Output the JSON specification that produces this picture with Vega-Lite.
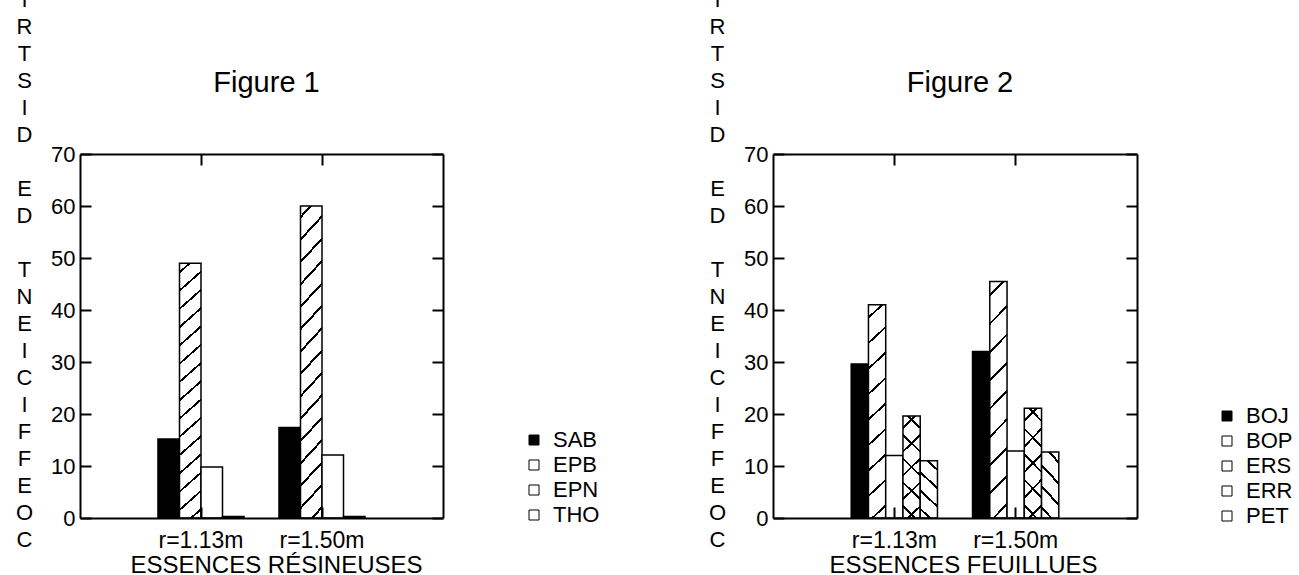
{
  "$schema": "https://vega.github.io/schema/vega-lite/v6.json",
  "autosize": {"type": "none"},
  "padding": {"left": 80, "top": 154, "right": 1219, "bottom": 421},
  "bounds": "flush",
  "spacing": 330,
  "background": "white",
  "config": {
    "font": "Liberation Sans",
    "view": {"stroke": null},
    "axis": {
      "domainColor": "black", "domainWidth": 2, "tickColor": "black", "tickWidth": 2,
      "labelColor": "black", "titleColor": "black", "labelFont": "Liberation Sans", "titleFont": "Liberation Sans",
      "labelFontSize": 22, "titleFontSize": 22, "titleFontWeight": "normal", "grid": false
    },
    "legend": {
      "labelFont": "Liberation Sans", "labelFontSize": 22, "labelColor": "black",
      "symbolType": "square", "symbolSize": 100, "symbolStrokeColor": "black", "symbolStrokeWidth": 1,
      "labelOffset": 8, "rowPadding": 3, "padding": 0
    },
    "title": {"font": "Liberation Sans", "fontSize": 29, "fontWeight": "normal", "color": "black", "anchor": "middle", "frame": "group", "baseline": "alphabetic"}
  },
  "datasets": {
    "res": [
      {"r": "r=1.13m", "species": "SAB", "value": 15.2},
      {"r": "r=1.13m", "species": "EPB", "value": 49},
      {"r": "r=1.13m", "species": "EPN", "value": 9.8},
      {"r": "r=1.13m", "species": "THO", "value": 0.3},
      {"r": "r=1.50m", "species": "SAB", "value": 17.4},
      {"r": "r=1.50m", "species": "EPB", "value": 60},
      {"r": "r=1.50m", "species": "EPN", "value": 12.1},
      {"r": "r=1.50m", "species": "THO", "value": 0.3}
    ],
    "feu": [
      {"r": "r=1.13m", "species": "BOJ", "value": 29.6},
      {"r": "r=1.13m", "species": "BOP", "value": 41},
      {"r": "r=1.13m", "species": "ERS", "value": 12},
      {"r": "r=1.13m", "species": "ERR", "value": 19.6},
      {"r": "r=1.13m", "species": "PET", "value": 11},
      {"r": "r=1.50m", "species": "BOJ", "value": 32},
      {"r": "r=1.50m", "species": "BOP", "value": 45.5},
      {"r": "r=1.50m", "species": "ERS", "value": 12.9},
      {"r": "r=1.50m", "species": "ERR", "value": 21.1},
      {"r": "r=1.50m", "species": "PET", "value": 12.7}
    ]
  },
  "resolve": {"scale": {"fill": "independent", "xOffset": "independent", "x": "independent", "y": "independent"}, "legend": {"fill": "independent"}},
  "hconcat": [
    {
      "width": 363, "height": 364,
      "title": {"text": "Figure 1", "offset": -272, "dx": 5},
      "data": {"name": "res"},
      "layer": [
        {
          "mark": {"type": "bar", "stroke": "black", "strokeWidth": 1.5},
          "encoding": {
            "x": {"field": "r", "type": "nominal", "sort": null,
              "scale": {"domain": ["r=1.13m", "r=1.50m"], "paddingInner": 0.289, "paddingOuter": 0.6445},
              "axis": {"orient": "bottom", "labelAngle": 0, "labelFontSize": 23, "tickSize": -11, "labelPadding": 22, "zindex": 1,
                "title": "ESSENCES RÉSINEUSES", "titleFontSize": 24, "titleX": 196, "titleY": 54, "titleAlign": "center", "titleBaseline": "alphabetic"}},
            "xOffset": {"field": "species", "type": "nominal", "sort": null,
              "scale": {"domain": ["SAB", "EPB", "EPN", "THO"], "paddingInner": 0, "paddingOuter": 0}},
            "y": {"field": "value", "type": "quantitative",
              "scale": {"domain": [0, 70], "nice": false},
              "axis": {"orient": "left", "values": [0, 10, 20, 30, 40, 50, 60, 70], "tickSize": -11, "labelPadding": 16,
                "title": ["N","O","I","T","U","B","I","R","T","S","I","D","\u2800","E","D","\u2800","T","N","E","I","C","I","F","F","E","O","C"],
                "titleAngle": 0, "titleAlign": "center", "titleBaseline": "alphabetic", "titleX": -56, "titleY": -310, "titleLineHeight": 27}},
            "fill": {"field": "species", "type": "nominal", "sort": null,
              "scale": {"domain": ["SAB", "EPB", "EPN", "THO"], "range": ["black", "white", "white", "white"]},
              "legend": {"orient": "none", "legendX": 443, "legendY": 275, "title": null}}
          }
        },
        {
          "mark": {"type": "bar", "strokeWidth": 0},
          "encoding": {
            "x": {"field": "r", "type": "nominal", "sort": null,
              "scale": {"domain": ["r=1.13m", "r=1.50m"], "paddingInner": 0.289, "paddingOuter": 0.6445},
              "axis": {"orient": "top", "labels": false, "title": null, "tickSize": -11}},
            "xOffset": {"field": "species", "type": "nominal", "sort": null,
              "scale": {"domain": ["SAB", "EPB", "EPN", "THO"], "paddingInner": 0, "paddingOuter": 0}},
            "y": {"field": "value", "type": "quantitative",
              "scale": {"domain": [0, 70], "nice": false},
              "axis": {"orient": "right", "values": [0, 10, 20, 30, 40, 50, 60, 70], "labels": false, "title": null, "tickSize": -11}},
            "fill": {
              "condition": [
                {"test": "datum.species === 'EPB'", "value": {"gradient": "linear", "x1": 0, "y1": 0, "x2": 0.08, "y2": 1.07, "stops": [
                  {"offset": 0, "color": "rgba(0,0,0,0)"},
                  {"offset": 0.0288, "color": "rgba(0,0,0,0)"}, {"offset": 0.0288, "color": "black"}, {"offset": 0.0378, "color": "black"}, {"offset": 0.0378, "color": "rgba(0,0,0,0)"},
                  {"offset": 0.0955, "color": "rgba(0,0,0,0)"}, {"offset": 0.0955, "color": "black"}, {"offset": 0.1045, "color": "black"}, {"offset": 0.1045, "color": "rgba(0,0,0,0)"},
                  {"offset": 0.1622, "color": "rgba(0,0,0,0)"}, {"offset": 0.1622, "color": "black"}, {"offset": 0.1712, "color": "black"}, {"offset": 0.1712, "color": "rgba(0,0,0,0)"},
                  {"offset": 0.2288, "color": "rgba(0,0,0,0)"}, {"offset": 0.2288, "color": "black"}, {"offset": 0.2378, "color": "black"}, {"offset": 0.2378, "color": "rgba(0,0,0,0)"},
                  {"offset": 0.2955, "color": "rgba(0,0,0,0)"}, {"offset": 0.2955, "color": "black"}, {"offset": 0.3045, "color": "black"}, {"offset": 0.3045, "color": "rgba(0,0,0,0)"},
                  {"offset": 0.3622, "color": "rgba(0,0,0,0)"}, {"offset": 0.3622, "color": "black"}, {"offset": 0.3712, "color": "black"}, {"offset": 0.3712, "color": "rgba(0,0,0,0)"},
                  {"offset": 0.4288, "color": "rgba(0,0,0,0)"}, {"offset": 0.4288, "color": "black"}, {"offset": 0.4378, "color": "black"}, {"offset": 0.4378, "color": "rgba(0,0,0,0)"},
                  {"offset": 0.4955, "color": "rgba(0,0,0,0)"}, {"offset": 0.4955, "color": "black"}, {"offset": 0.5045, "color": "black"}, {"offset": 0.5045, "color": "rgba(0,0,0,0)"},
                  {"offset": 0.5622, "color": "rgba(0,0,0,0)"}, {"offset": 0.5622, "color": "black"}, {"offset": 0.5712, "color": "black"}, {"offset": 0.5712, "color": "rgba(0,0,0,0)"},
                  {"offset": 0.6288, "color": "rgba(0,0,0,0)"}, {"offset": 0.6288, "color": "black"}, {"offset": 0.6378, "color": "black"}, {"offset": 0.6378, "color": "rgba(0,0,0,0)"},
                  {"offset": 0.6955, "color": "rgba(0,0,0,0)"}, {"offset": 0.6955, "color": "black"}, {"offset": 0.7045, "color": "black"}, {"offset": 0.7045, "color": "rgba(0,0,0,0)"},
                  {"offset": 0.7622, "color": "rgba(0,0,0,0)"}, {"offset": 0.7622, "color": "black"}, {"offset": 0.7712, "color": "black"}, {"offset": 0.7712, "color": "rgba(0,0,0,0)"},
                  {"offset": 0.8288, "color": "rgba(0,0,0,0)"}, {"offset": 0.8288, "color": "black"}, {"offset": 0.8378, "color": "black"}, {"offset": 0.8378, "color": "rgba(0,0,0,0)"},
                  {"offset": 0.8955, "color": "rgba(0,0,0,0)"}, {"offset": 0.8955, "color": "black"}, {"offset": 0.9045, "color": "black"}, {"offset": 0.9045, "color": "rgba(0,0,0,0)"},
                  {"offset": 0.9622, "color": "rgba(0,0,0,0)"}, {"offset": 0.9622, "color": "black"}, {"offset": 0.9712, "color": "black"}, {"offset": 0.9712, "color": "rgba(0,0,0,0)"},
                  {"offset": 1, "color": "rgba(0,0,0,0)"}
                ]}}
              ],
              "value": "transparent"
            }
          }
        }
      ],
      "resolve": {"axis": {"x": "independent", "y": "independent"}}
    },
    {
      "width": 364, "height": 364,
      "title": {"text": "Figure 2", "offset": -272, "dx": 5},
      "data": {"name": "feu"},
      "layer": [
        {
          "mark": {"type": "bar", "stroke": "black", "strokeWidth": 1.5},
          "encoding": {
            "x": {"field": "r", "type": "nominal", "sort": null,
              "scale": {"domain": ["r=1.13m", "r=1.50m"], "paddingInner": 0.289, "paddingOuter": 0.6445},
              "axis": {"orient": "bottom", "labelAngle": 0, "labelFontSize": 23, "tickSize": -11, "labelPadding": 22, "zindex": 1,
                "title": "ESSENCES FEUILLUES", "titleFontSize": 24, "titleX": 190, "titleY": 54, "titleAlign": "center", "titleBaseline": "alphabetic"}},
            "xOffset": {"field": "species", "type": "nominal", "sort": null,
              "scale": {"domain": ["BOJ", "BOP", "ERS", "ERR", "PET"], "paddingInner": 0, "paddingOuter": 0}},
            "y": {"field": "value", "type": "quantitative",
              "scale": {"domain": [0, 70], "nice": false},
              "axis": {"orient": "left", "values": [0, 10, 20, 30, 40, 50, 60, 70], "tickSize": -11, "labelPadding": 16,
                "title": ["N","O","I","T","U","B","I","R","T","S","I","D","\u2800","E","D","\u2800","T","N","E","I","C","I","F","F","E","O","C"],
                "titleAngle": 0, "titleAlign": "center", "titleBaseline": "alphabetic", "titleX": -56, "titleY": -310, "titleLineHeight": 27}},
            "fill": {"field": "species", "type": "nominal", "sort": null,
              "scale": {"domain": ["BOJ", "BOP", "ERS", "ERR", "PET"], "range": ["black", "white", "white", "white", "white"]},
              "legend": {"orient": "none", "legendX": 443, "legendY": 251, "title": null}}
          }
        },
        {
          "mark": {"type": "bar", "strokeWidth": 0},
          "encoding": {
            "x": {"field": "r", "type": "nominal", "sort": null,
              "scale": {"domain": ["r=1.13m", "r=1.50m"], "paddingInner": 0.289, "paddingOuter": 0.6445},
              "axis": {"orient": "top", "labels": false, "title": null, "tickSize": -11}},
            "xOffset": {"field": "species", "type": "nominal", "sort": null,
              "scale": {"domain": ["BOJ", "BOP", "ERS", "ERR", "PET"], "paddingInner": 0, "paddingOuter": 0}},
            "y": {"field": "value", "type": "quantitative",
              "scale": {"domain": [0, 70], "nice": false},
              "axis": {"orient": "right", "values": [0, 10, 20, 30, 40, 50, 60, 70], "labels": false, "title": null, "tickSize": -11}},
            "fill": {
              "condition": [
                {"test": "datum.species === 'BOP'", "value": {"gradient": "linear", "x1": 0, "y1": 0, "x2": 0.08, "y2": 1.07, "stops": [
                  {"offset": 0, "color": "rgba(0,0,0,0)"},
                  {"offset": 0.0501, "color": "rgba(0,0,0,0)"}, {"offset": 0.0501, "color": "black"}, {"offset": 0.0611, "color": "black"}, {"offset": 0.0611, "color": "rgba(0,0,0,0)"},
                  {"offset": 0.1612, "color": "rgba(0,0,0,0)"}, {"offset": 0.1612, "color": "black"}, {"offset": 0.1722, "color": "black"}, {"offset": 0.1722, "color": "rgba(0,0,0,0)"},
                  {"offset": 0.2723, "color": "rgba(0,0,0,0)"}, {"offset": 0.2723, "color": "black"}, {"offset": 0.2833, "color": "black"}, {"offset": 0.2833, "color": "rgba(0,0,0,0)"},
                  {"offset": 0.3834, "color": "rgba(0,0,0,0)"}, {"offset": 0.3834, "color": "black"}, {"offset": 0.3944, "color": "black"}, {"offset": 0.3944, "color": "rgba(0,0,0,0)"},
                  {"offset": 0.4945, "color": "rgba(0,0,0,0)"}, {"offset": 0.4945, "color": "black"}, {"offset": 0.5055, "color": "black"}, {"offset": 0.5055, "color": "rgba(0,0,0,0)"},
                  {"offset": 0.6056, "color": "rgba(0,0,0,0)"}, {"offset": 0.6056, "color": "black"}, {"offset": 0.6166, "color": "black"}, {"offset": 0.6166, "color": "rgba(0,0,0,0)"},
                  {"offset": 0.7167, "color": "rgba(0,0,0,0)"}, {"offset": 0.7167, "color": "black"}, {"offset": 0.7277, "color": "black"}, {"offset": 0.7277, "color": "rgba(0,0,0,0)"},
                  {"offset": 0.8278, "color": "rgba(0,0,0,0)"}, {"offset": 0.8278, "color": "black"}, {"offset": 0.8388, "color": "black"}, {"offset": 0.8388, "color": "rgba(0,0,0,0)"},
                  {"offset": 0.9389, "color": "rgba(0,0,0,0)"}, {"offset": 0.9389, "color": "black"}, {"offset": 0.9499, "color": "black"}, {"offset": 0.9499, "color": "rgba(0,0,0,0)"},
                  {"offset": 1, "color": "rgba(0,0,0,0)"}
                ]}},
                {"test": "datum.species === 'ERR'", "value": {"gradient": "linear", "x1": 0, "y1": 0, "x2": 0.186, "y2": 1.1335, "stops": [
                  {"offset": 0, "color": "rgba(0,0,0,0)"},
                  {"offset": 0.0895, "color": "rgba(0,0,0,0)"}, {"offset": 0.0895, "color": "black"}, {"offset": 0.1105, "color": "black"}, {"offset": 0.1105, "color": "rgba(0,0,0,0)"},
                  {"offset": 0.2895, "color": "rgba(0,0,0,0)"}, {"offset": 0.2895, "color": "black"}, {"offset": 0.3105, "color": "black"}, {"offset": 0.3105, "color": "rgba(0,0,0,0)"},
                  {"offset": 0.4895, "color": "rgba(0,0,0,0)"}, {"offset": 0.4895, "color": "black"}, {"offset": 0.5105, "color": "black"}, {"offset": 0.5105, "color": "rgba(0,0,0,0)"},
                  {"offset": 0.6895, "color": "rgba(0,0,0,0)"}, {"offset": 0.6895, "color": "black"}, {"offset": 0.7105, "color": "black"}, {"offset": 0.7105, "color": "rgba(0,0,0,0)"},
                  {"offset": 0.8895, "color": "rgba(0,0,0,0)"}, {"offset": 0.8895, "color": "black"}, {"offset": 0.9105, "color": "black"}, {"offset": 0.9105, "color": "rgba(0,0,0,0)"},
                  {"offset": 1, "color": "rgba(0,0,0,0)"}
                ]}}
              ],
              "value": "transparent"
            }
          }
        },
        {
          "mark": {"type": "bar", "strokeWidth": 0},
          "encoding": {
            "x": {"field": "r", "type": "nominal", "sort": null,
              "scale": {"domain": ["r=1.13m", "r=1.50m"], "paddingInner": 0.289, "paddingOuter": 0.6445},
              "axis": null},
            "xOffset": {"field": "species", "type": "nominal", "sort": null,
              "scale": {"domain": ["BOJ", "BOP", "ERS", "ERR", "PET"], "paddingInner": 0, "paddingOuter": 0}},
            "y": {"field": "value", "type": "quantitative",
              "scale": {"domain": [0, 70], "nice": false}, "axis": null},
            "fill": {
              "condition": [
                {"test": "datum.species === 'ERR'", "value": {"gradient": "linear", "x1": 1, "y1": 0, "x2": 0.814, "y2": 1.1335, "stops": [
                  {"offset": 0, "color": "rgba(0,0,0,0)"},
                  {"offset": 0.0895, "color": "rgba(0,0,0,0)"}, {"offset": 0.0895, "color": "black"}, {"offset": 0.1105, "color": "black"}, {"offset": 0.1105, "color": "rgba(0,0,0,0)"},
                  {"offset": 0.2895, "color": "rgba(0,0,0,0)"}, {"offset": 0.2895, "color": "black"}, {"offset": 0.3105, "color": "black"}, {"offset": 0.3105, "color": "rgba(0,0,0,0)"},
                  {"offset": 0.4895, "color": "rgba(0,0,0,0)"}, {"offset": 0.4895, "color": "black"}, {"offset": 0.5105, "color": "black"}, {"offset": 0.5105, "color": "rgba(0,0,0,0)"},
                  {"offset": 0.6895, "color": "rgba(0,0,0,0)"}, {"offset": 0.6895, "color": "black"}, {"offset": 0.7105, "color": "black"}, {"offset": 0.7105, "color": "rgba(0,0,0,0)"},
                  {"offset": 0.8895, "color": "rgba(0,0,0,0)"}, {"offset": 0.8895, "color": "black"}, {"offset": 0.9105, "color": "black"}, {"offset": 0.9105, "color": "rgba(0,0,0,0)"},
                  {"offset": 1, "color": "rgba(0,0,0,0)"}
                ]}},
                {"test": "datum.species === 'PET'", "value": {"gradient": "linear", "x1": 1, "y1": 0, "x2": 0.665, "y2": 1.188, "stops": [
                  {"offset": 0, "color": "rgba(0,0,0,0)"},
                  {"offset": 0.107, "color": "rgba(0,0,0,0)"}, {"offset": 0.107, "color": "black"}, {"offset": 0.143, "color": "black"}, {"offset": 0.143, "color": "rgba(0,0,0,0)"},
                  {"offset": 0.357, "color": "rgba(0,0,0,0)"}, {"offset": 0.357, "color": "black"}, {"offset": 0.393, "color": "black"}, {"offset": 0.393, "color": "rgba(0,0,0,0)"},
                  {"offset": 0.607, "color": "rgba(0,0,0,0)"}, {"offset": 0.607, "color": "black"}, {"offset": 0.643, "color": "black"}, {"offset": 0.643, "color": "rgba(0,0,0,0)"},
                  {"offset": 0.857, "color": "rgba(0,0,0,0)"}, {"offset": 0.857, "color": "black"}, {"offset": 0.893, "color": "black"}, {"offset": 0.893, "color": "rgba(0,0,0,0)"},
                  {"offset": 1, "color": "rgba(0,0,0,0)"}
                ]}}
              ],
              "value": "transparent"
            }
          }
        }
      ],
      "resolve": {"axis": {"x": "independent", "y": "independent"}}
    }
  ]
}
